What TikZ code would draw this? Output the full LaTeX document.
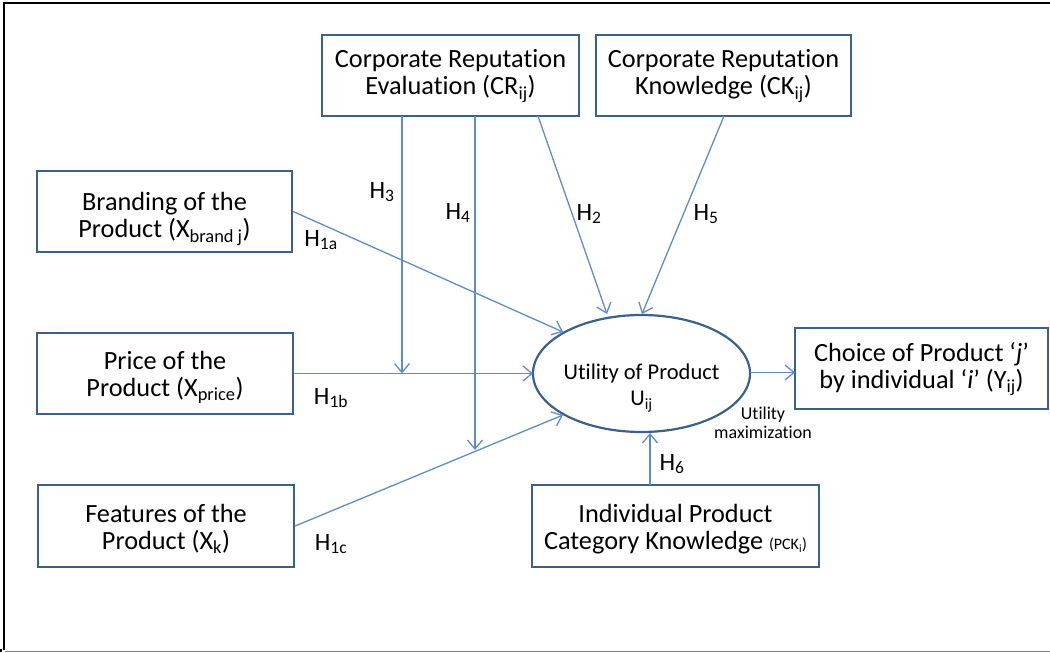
\documentclass[tikz,border=0pt]{standalone}
\usepackage{fontspec}
\setmainfont[Ligatures=NoCommon]{Carlito}
\usetikzlibrary{arrows.meta,shapes.geometric}
\definecolor{boxblue}{RGB}{60,96,140}
\definecolor{arrblue}{RGB}{95,140,200}
\newcommand\sbs[1]{\textsubscript{#1}}
\begin{document}
\begin{tikzpicture}[x=1pt,y=-1pt,
  box/.style={draw=boxblue,line width=2.2pt,rectangle,inner sep=0pt},
  boxtext/.style={align=center,inner sep=0pt,font=\fontsize{26.3}{27}\selectfont},
  conn/.style={draw=arrblue,line width=1.3pt,-{Straight Barb[length=9pt,width=15pt,line width=1.3pt]}},
  hlab/.style={font=\fontsize{25}{26}\selectfont,inner sep=0pt},
  smalltext/.style={font=\fontsize{18}{18.5}\selectfont,align=center,inner sep=0pt}]
\useasboundingbox (0,0) rectangle (1050,653);
% frame
\draw[black,line width=2pt] (4,650) -- (4,3) -- (1050,3);
\draw[gray,line width=1.5pt] (5,651.5) -- (1050,651.5);
\fill[black] (0,649) rectangle (2,652);
% boxes
\node[box,minimum width=257pt,minimum height=81pt] (cr) at (450.5,75.5) {};
\node[box,minimum width=255pt,minimum height=81pt] (ck) at (723.5,75.5) {};
\node[box,minimum width=255pt,minimum height=81pt] (brand) at (164.5,211.5) {};
\node[box,minimum width=256pt,minimum height=81pt] (price) at (165,373.5) {};
\node[box,minimum width=256pt,minimum height=82pt] (feat) at (166,526) {};
\node[draw=boxblue,line width=2.2pt,ellipse,minimum width=217pt,minimum height=117pt,inner sep=0pt] (util) at (641.5,373.5) {};
\node[box,minimum width=253pt,minimum height=81pt] (choice) at (921.5,368.5) {};
\node[box,minimum width=287pt,minimum height=82pt] (pck) at (675.5,526) {};
% texts
\node[boxtext] (crt) at (450.5,76) {Corporate Reputation\\Evaluation (CR\sbs{ij})};
\node[boxtext] (ckt) at (723.5,76) {Corporate Reputation\\Knowledge (CK\sbs{ij})};
\node[boxtext] (brandt) at (164.5,219) {Branding of the\\Product (X\sbs{brand j})};
\node[boxtext] (pricet) at (165,377.5) {Price of the\\Product (X\sbs{price})};
\node[boxtext] (featt) at (166,529) {Features of the\\Product (X\sbs{k})};
\node[align=center,inner sep=0pt,font=\fontsize{22.5}{26}\selectfont] (utilt) at (641.5,388) {Utility of Product\\U\sbs{ij}};
\node[boxtext] (choicet) at (921.5,369.5) {Choice of Product ‘\textit{j}’\\by individual ‘\textit{i}’ (Y\sbs{ij})};
\node[boxtext] (pckt) at (675.5,529.5) {Individual Product\\Category Knowledge {\fontsize{16}{16}\selectfont(PCK\sbs{i})}};
% coordinates
\coordinate (e1a) at (563,332);
\coordinate (e1b) at (533,373.5);
\coordinate (e1c) at (563,415);
\coordinate (s3) at (402,116);
\coordinate (e3) at (402,373.5);
\coordinate (s4) at (475,116);
\coordinate (e4) at (475,450);
\coordinate (s2) at (538,116);
\coordinate (e2) at (607,314);
\coordinate (s5) at (724,116);
\coordinate (e5) at (642,314);
\coordinate (s6) at (650,485);
\coordinate (e6) at (650,433);
\coordinate (su) at (750,372.5);
\coordinate (eu) at (795,372.5);
% connectors
\draw[conn] (brand.east) -- (e1a);
\draw[conn] (price.east) -- (e1b);
\draw[conn] (feat.east) -- (e1c);
\draw[conn] (s3) -- (e3);
\draw[conn] (s4) -- (e4);
\draw[conn] (s2) -- (e2);
\draw[conn] (s5) -- (e5);
\draw[conn] (s6) -- (e6);
\draw[conn] (su) -- (eu);
% labels
\node[hlab] (l3) at (382,192) {H\sbs{3}};
\node[hlab] (l4) at (458,213) {H\sbs{4}};
\node[hlab] (l2) at (589,214) {H\sbs{2}};
\node[hlab] (l5) at (706,214) {H\sbs{5}};
\node[hlab] (l1a) at (321,240) {H\sbs{1a}};
\node[hlab] (l1b) at (331,398) {H\sbs{1b}};
\node[hlab] (l1c) at (331,544) {H\sbs{1c}};
\node[hlab] (l6) at (672,464) {H\sbs{6}};
\node[smalltext] (um) at (763,423) {Utility\\maximization};
\end{tikzpicture}
\end{document}
